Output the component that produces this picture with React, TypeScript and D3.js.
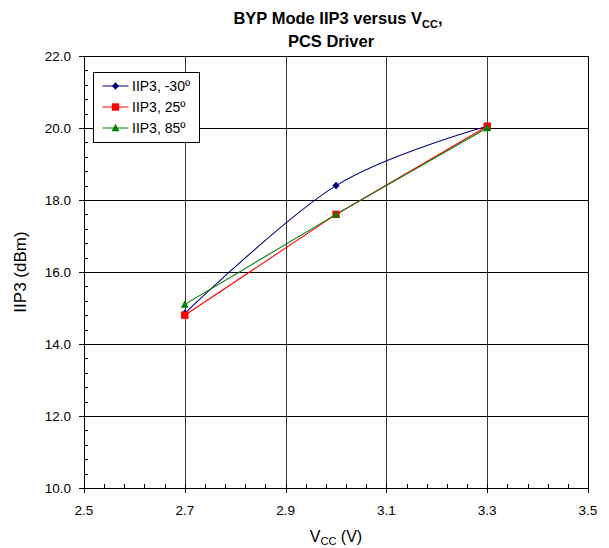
import React, { useEffect, useRef } from 'react';
import * as d3 from 'd3';

const vcc = [2.7, 3.0, 3.3];
const iip3Cold = [14.85, 18.4, 20.05];
const iip3Room = [14.8, 17.6, 20.05];
const iip3Hot = [15.1, 17.6, 20.0];
const xTicks = [2.5, 2.7, 2.9, 3.1, 3.3, 3.5];
const yTicks = [10, 12, 14, 16, 18, 20, 22];
const seriesNames = ['IIP3, -30º', 'IIP3, 25º', 'IIP3, 85º'];

const W = 609;
const H = 548;
const m = { left: 84, right: 21, top: 56, bottom: 60 };

// marker outlines, centred on 0,0
const diamond = 'M0,-3.8L3.6,0L0,3.8L-3.6,0Z';
const square = 'M-3.7,-3.7H3.7V3.7H-3.7Z';
const triangle = 'M0,-4.2L3.9,3.3H-3.9Z';

const App = () => {
  const ref = useRef<SVGSVGElement>(null);

  useEffect(() => {
    const svg = d3.select(ref.current);
    svg.selectAll('*').remove();
    const font = 'Arial, "Liberation Sans", sans-serif';

    const x = d3.scaleLinear().domain([2.5, 3.5]).range([m.left, W - m.right]);
    const y = d3.scaleLinear().domain([10, 22]).range([H - m.bottom, m.top]);
    const px = (v: number) => Math.round(x(v)) + 0.5;
    const py = (v: number) => Math.round(y(v)) + 0.5;

    const g = svg.append('g');

    // grid
    g.selectAll('.vg')
      .data(xTicks.slice(1, -1))
      .enter()
      .append('line')
      .attr('x1', px)
      .attr('x2', px)
      .attr('y1', y(10))
      .attr('y2', y(22))
      .attr('stroke', '#3a3a3a');
    g.selectAll('.hg')
      .data(yTicks.slice(1, -1))
      .enter()
      .append('line')
      .attr('x1', x(2.5))
      .attr('x2', x(3.5))
      .attr('y1', py)
      .attr('y2', py)
      .attr('stroke', '#000');

    // frame
    g.append('rect')
      .attr('x', px(2.5))
      .attr('y', py(22))
      .attr('width', px(3.5) - px(2.5))
      .attr('height', py(10) - py(22))
      .attr('fill', 'none')
      .attr('stroke', '#000');

    // minor ticks
    const xMinor = d3.range(0, 26).map(i => 2.5 + i * 0.04);
    g.selectAll('.xm')
      .data(xMinor)
      .enter()
      .append('line')
      .attr('x1', px)
      .attr('x2', px)
      .attr('y1', y(10) - 4)
      .attr('y2', y(10))
      .attr('stroke', '#000');
    const yMinor = d3.range(0, 31).map(i => 10 + i * 0.4);
    g.selectAll('.ym')
      .data(yMinor)
      .enter()
      .append('line')
      .attr('x1', x(2.5))
      .attr('x2', x(2.5) + 4)
      .attr('y1', py)
      .attr('y2', py)
      .attr('stroke', '#000');

    // major ticks
    g.selectAll('.xM')
      .data(xTicks)
      .enter()
      .append('line')
      .attr('x1', px)
      .attr('x2', px)
      .attr('y1', y(10))
      .attr('y2', y(10) + 5)
      .attr('stroke', '#000');
    g.selectAll('.yM')
      .data(yTicks)
      .enter()
      .append('line')
      .attr('x1', x(2.5) - 5)
      .attr('x2', x(2.5))
      .attr('y1', py)
      .attr('y2', py)
      .attr('stroke', '#000');

    // tick labels
    g.selectAll('.xl')
      .data(xTicks)
      .enter()
      .append('text')
      .attr('x', d => x(d))
      .attr('y', 515)
      .attr('text-anchor', 'middle')
      .attr('font-family', font)
      .attr('font-size', 13.5)
      .text(d => d.toFixed(1));
    g.selectAll('.yl')
      .data(yTicks)
      .enter()
      .append('text')
      .attr('x', 71)
      .attr('y', d => y(d) + 5)
      .attr('text-anchor', 'end')
      .attr('font-family', font)
      .attr('font-size', 13.5)
      .text(d => d.toFixed(1));

    // axis titles
    const xt = g.append('text')
      .attr('x', 336)
      .attr('y', 542)
      .attr('text-anchor', 'middle')
      .attr('font-family', font)
      .attr('font-size', 16);
    xt.append('tspan').text('V');
    xt.append('tspan').attr('font-size', 11).attr('dy', 3).text('CC');
    xt.append('tspan').attr('dy', -3).text(' (V)');

    g.append('text')
      .attr('transform', `translate(26,${(y(10) + y(22)) / 2}) rotate(-90)`)
      .attr('text-anchor', 'middle')
      .attr('font-family', font)
      .attr('font-size', 17)
      .text('IIP3 (dBm)');

    // title
    const t1 = g.append('text')
      .attr('x', 338)
      .attr('y', 24)
      .attr('text-anchor', 'middle')
      .attr('font-family', font)
      .attr('font-weight', 'bold')
      .attr('font-size', 16.5);
    t1.append('tspan').text('BYP Mode IIP3 versus V');
    t1.append('tspan').attr('font-size', 11).attr('dy', 4).text('CC');
    t1.append('tspan').attr('dy', -4).text(',');
    g.append('text')
      .attr('x', 331)
      .attr('y', 47)
      .attr('text-anchor', 'middle')
      .attr('font-family', font)
      .attr('font-weight', 'bold')
      .attr('font-size', 16.5)
      .text('PCS Driver');

    // series
    const series = [
      { vals: iip3Cold, color: '#000080', shape: diamond, curve: d3.curveCatmullRom.alpha(0) },
      { vals: iip3Room, color: '#FF0000', shape: square, curve: d3.curveLinear },
      { vals: iip3Hot, color: '#008000', shape: triangle, curve: d3.curveLinear },
    ];

    series.forEach(s => {
      const pts = vcc.map((v, i) => [v, s.vals[i]] as [number, number]);
      const line = d3.line<[number, number]>()
        .x(d => x(d[0]))
        .y(d => y(d[1]))
        .curve(s.curve);
      g.append('path')
        .attr('d', line(pts))
        .attr('fill', 'none')
        .attr('stroke', s.color)
        .attr('stroke-width', 1.1);
    });
    series.forEach(s => {
      g.selectAll(null)
        .data(vcc.map((v, i) => [v, s.vals[i]]))
        .enter()
        .append('path')
        .attr('d', s.shape)
        .attr('transform', d => `translate(${x(d[0])},${y(d[1])})`)
        .attr('fill', s.color);
    });

    // legend
    const lg = g.append('g').attr('transform', 'translate(93.5,72.5)');
    lg.append('rect')
      .attr('width', 106)
      .attr('height', 70)
      .attr('fill', '#fff')
      .attr('stroke', '#000');
    series.forEach((s, i) => {
      const ly = 13.5 + i * 21;
      lg.append('line')
        .attr('x1', 9)
        .attr('x2', 35)
        .attr('y1', ly)
        .attr('y2', ly)
        .attr('stroke', s.color);
      lg.append('path')
        .attr('d', s.shape)
        .attr('transform', `translate(22,${ly})`)
        .attr('fill', s.color);
      lg.append('text')
        .attr('x', 38.5)
        .attr('y', ly + 5)
        .attr('font-family', font)
        .attr('font-size', 14)
        .text(seriesNames[i]);
    });
  }, []);

  return <svg ref={ref} width={W} height={H} style={{ position: 'absolute', left: 0, top: 0 }} />;
};

export default App;
